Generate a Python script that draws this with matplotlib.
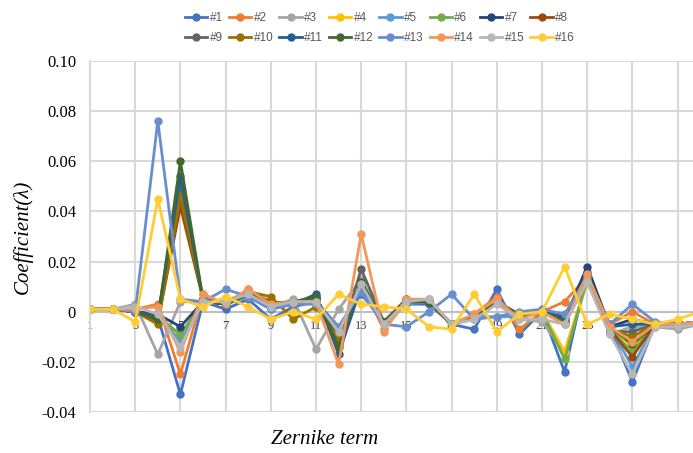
import matplotlib
matplotlib.use('Agg')
import matplotlib.pyplot as plt
import numpy as np

terms = list(range(1, 29))

s1 = [0.001, 0.001, 0.000, -0.002, -0.033, 0.004, 0.001, 0.005, -0.003, 0.002, 0.004, -0.006, 0.007, -0.004, 0.003, 0.003, -0.005, -0.007, 0.009, -0.009, 0.000, -0.024, 0.016, -0.006, -0.028, -0.005, -0.005, -0.004]
s2 = [0.001, 0.001, 0.001, 0.003, -0.025, 0.007, 0.003, 0.009, 0.003, 0.003, 0.004, -0.010, 0.011, -0.007, 0.004, 0.004, -0.005, -0.001, 0.006, -0.007, 0.000, 0.004, 0.014, -0.005, 0.000, -0.005, -0.005, -0.004]
s3 = [0.001, 0.001, 0.003, -0.017, 0.004, 0.004, 0.004, 0.007, 0.002, 0.005, -0.015, 0.001, 0.013, -0.004, 0.004, 0.005, -0.005, -0.003, 0.004, -0.003, -0.004, -0.016, 0.012, -0.009, -0.006, -0.006, -0.007, -0.005]
s4 = [0.001, 0.001, 0.000, -0.001, -0.010, 0.004, 0.003, 0.006, 0.002, 0.003, 0.004, -0.008, 0.009, -0.004, 0.004, 0.004, -0.005, -0.002, 0.004, -0.002, 0.000, -0.016, 0.012, -0.006, -0.014, -0.005, -0.005, -0.004]
s5 = [0.001, 0.001, 0.000, -0.001, -0.012, 0.004, 0.003, 0.006, 0.001, 0.003, 0.004, -0.009, 0.009, -0.004, 0.003, 0.004, -0.005, -0.002, -0.002, -0.002, 0.000, -0.005, 0.013, -0.006, -0.022, -0.005, -0.005, -0.004]
s6 = [0.001, 0.001, 0.000, -0.002, -0.009, 0.004, 0.003, 0.007, 0.002, 0.003, 0.005, -0.011, 0.010, -0.004, 0.004, 0.004, -0.005, -0.002, 0.004, -0.002, 0.000, -0.019, 0.013, -0.007, -0.016, -0.005, -0.005, -0.004]
s7 = [0.001, 0.001, 0.000, -0.001, -0.006, 0.004, 0.003, 0.007, 0.002, 0.003, 0.006, -0.012, 0.010, -0.004, 0.004, 0.004, -0.005, -0.002, 0.004, -0.002, 0.000, -0.003, 0.018, -0.006, -0.003, -0.005, -0.005, -0.004]
s8 = [0.001, 0.001, 0.000, -0.004, 0.042, 0.005, 0.003, 0.008, 0.004, 0.003, 0.005, -0.012, 0.011, -0.004, 0.005, 0.004, -0.005, -0.002, 0.004, -0.002, 0.000, -0.004, 0.014, -0.007, -0.018, -0.005, -0.005, -0.004]
s9 = [0.001, 0.001, 0.000, -0.002, 0.050, 0.005, 0.003, 0.007, 0.003, 0.004, 0.005, -0.013, 0.017, -0.004, 0.004, 0.004, -0.005, -0.002, 0.004, -0.002, 0.000, -0.004, 0.013, -0.008, -0.008, -0.005, -0.006, -0.004]
s10 = [0.001, 0.001, 0.000, -0.005, 0.046, 0.005, 0.004, 0.008, 0.006, -0.003, 0.002, -0.011, 0.010, -0.004, 0.005, 0.004, -0.005, -0.002, 0.004, -0.002, 0.000, -0.004, 0.013, -0.007, -0.010, -0.005, -0.005, -0.004]
s11 = [0.001, 0.001, 0.000, -0.002, 0.054, 0.005, 0.003, 0.007, 0.002, 0.003, 0.007, -0.017, 0.010, -0.004, 0.004, 0.004, -0.005, -0.002, 0.004, -0.002, 0.000, -0.002, 0.015, -0.006, -0.005, -0.005, -0.005, -0.004]
s12 = [0.001, 0.001, 0.000, -0.003, 0.060, 0.005, 0.003, 0.007, 0.003, 0.004, 0.006, -0.014, 0.012, -0.004, 0.004, 0.004, -0.005, -0.002, 0.004, -0.001, 0.000, -0.004, 0.013, -0.006, -0.013, -0.005, -0.005, -0.004]
s13 = [0.001, 0.001, 0.000, 0.076, 0.005, 0.004, 0.009, 0.006, 0.001, 0.003, 0.003, -0.006, 0.008, -0.005, -0.006, 0.000, 0.007, -0.003, -0.002, 0.000, 0.001, -0.001, 0.014, -0.005, 0.003, -0.004, -0.005, -0.004]
s14 = [0.001, 0.001, 0.001, 0.002, -0.016, 0.007, 0.003, 0.009, 0.003, 0.004, 0.004, -0.021, 0.031, -0.008, 0.005, 0.005, -0.005, -0.001, 0.005, -0.003, 0.000, -0.005, 0.015, -0.006, -0.012, -0.005, -0.005, -0.004]
s15 = [0.001, 0.001, 0.002, -0.001, -0.014, 0.004, 0.004, 0.007, 0.002, 0.004, 0.004, -0.008, 0.011, -0.005, 0.004, 0.005, -0.005, -0.003, 0.003, -0.003, -0.003, -0.005, 0.012, -0.009, -0.025, -0.006, -0.006, -0.005]
s16 = [0.001, 0.001, -0.004, 0.045, 0.005, 0.002, 0.006, 0.002, -0.003, 0.000, -0.003, 0.007, 0.003, 0.002, 0.001, -0.006, -0.007, 0.007, -0.008, -0.001, 0.000, 0.018, -0.005, -0.001, -0.003, -0.005, -0.003, 0.000]

series = [s1, s2, s3, s4, s5, s6, s7, s8, s9, s10, s11, s12, s13, s14, s15, s16]
names = ['#%d' % (i + 1) for i in range(16)]
colors = ['#4472C4', '#ED7D31', '#A5A5A5', '#FFC000', '#5B9BD5', '#70AD47',
          '#264478', '#9E480E', '#636363', '#997300', '#255E91', '#43682B',
          '#698ED0', '#F1975A', '#B7B7B7', '#FFCD33']

yticks = [-0.04, -0.02, 0, 0.02, 0.04, 0.06, 0.08, 0.10]
ytick_labels = ['-0.04', '-0.02', '0', '0.02', '0.04', '0.06', '0.08', '0.10']
xlabel_terms = list(range(1, 28, 2))

grid_col = '#D9D9D9'
serif = ['Liberation Serif', 'DejaVu Serif']

fig = plt.figure(figsize=(6.93, 4.53), dpi=100)
ax = fig.add_axes([90/693, 41/453, 603/693, 351/453])

for v in yticks:
    ax.axhline(v, color=grid_col, lw=1.5, zorder=0)
for t in xlabel_terms:
    ax.axvline(t, color=grid_col, lw=1.5, zorder=0)
ax.axhline(0, color='#BFBFBF', lw=1.5, zorder=1)

for t in xlabel_terms:
    ax.text(t, -0.0055, str(t), ha='center', va='center', fontsize=9,
            family=serif, color='#404040', zorder=1)

handles = []
for vals, name, c in zip(series, names, colors):
    h, = ax.plot(terms, vals, color=c, lw=2.0, marker='o', markersize=5,
                 label=name, zorder=3)
    handles.append(h)

ax.set_xlim(1, 1 + 603/22.6)
ax.set_ylim(-0.04, 0.10)
ax.set_xticks([])
ax.set_yticks(yticks)
ax.set_yticklabels(ytick_labels, family=serif, fontsize=12, color='#000000')
ax.tick_params(axis='y', length=0, pad=10)
for sp in ['top', 'right', 'bottom']:
    ax.spines[sp].set_visible(False)
ax.spines['left'].set_color(grid_col)
ax.spines['left'].set_linewidth(1.5)

ax.set_ylabel('Coefficient(λ)', family=serif, style='italic', fontsize=15, labelpad=6)
fig.text(325/693, 1 - 440/453, 'Zernike term', family=serif, style='italic',
         fontsize=15, ha='center', va='center')

# legend fills column by column, so interleave to get #1..#8 on the first row
order = []
for i in range(8):
    order += [i, i + 8]
fig.legend(handles=[handles[i] for i in order], labels=[names[i] for i in order],
           loc='center', ncol=8, bbox_to_anchor=(380/693, 1 - 28/453), frameon=False,
           prop={'family': 'Liberation Sans', 'size': 8.5},
           labelcolor='#595959', handlelength=1.9, handletextpad=0.2,
           columnspacing=0.5, borderpad=0.2, labelspacing=0.65)

fig.savefig('out.png', dpi=100)
